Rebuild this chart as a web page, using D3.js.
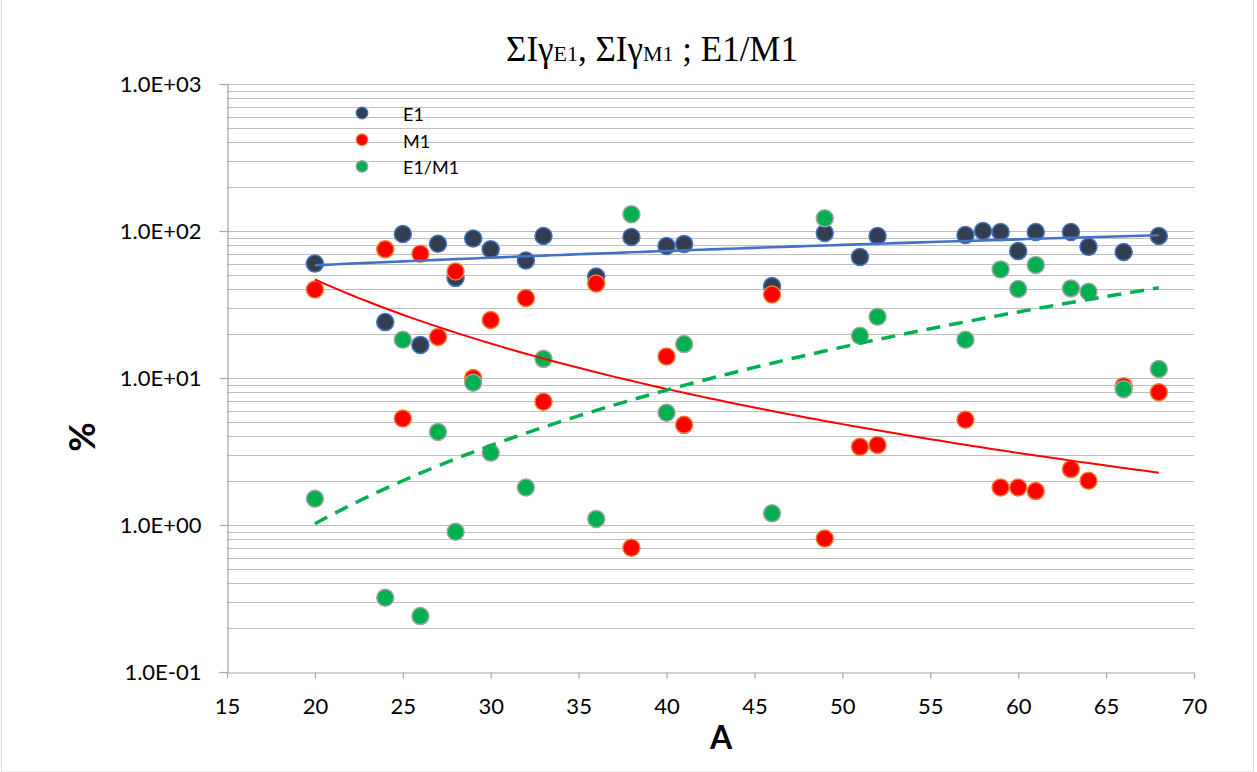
<!DOCTYPE html>
<html>
<head>
<meta charset="utf-8">
<script src="https://cdn.jsdelivr.net/npm/d3@7"></script>
<style>
  html, body { margin: 0; padding: 0; background: #fff; }
  svg { display: block; }
</style>
</head>
<body>
<svg id="chart" width="1257" height="772"></svg>
<script>
// Mass number A for each series
const aE1 = [20,24,25,26,27,28,29,30,32,33,36,38,40,41,46,49,51,52,57,58,59,60,61,63,64,66,68];
const e1Values = [60,24,95.5,16.8,82,48,89,75,63,92.5,49,91,79,81.7,42.3,97,66.5,92.5,94,100,98.5,73,98.5,98.5,78,72,92.5];

const aM1 = [20,24,25,26,27,28,29,30,32,33,36,38,40,41,46,49,51,52,57,59,60,61,63,64,66,68];
const m1Values = [40,75,5.3,70,19,53,10,24.8,35,6.9,44,0.70,14,4.8,37,0.81,3.4,3.5,5.2,1.8,1.8,1.7,2.4,2.0,8.8,8.0];

const aRatio = aM1;
const ratioValues = [1.51,0.32,18.2,0.24,4.3,0.90,9.3,3.1,1.8,13.5,1.1,130,5.8,17,1.2,122,19.4,26.1,18.2,54.8,40.3,58.8,40.7,38.6,8.4,11.5];

const xTicks = [15,20,25,30,35,40,45,50,55,60,65,70];
const yTicks = [0.1, 1, 10, 100, 1000];
const yTickLabels = ["1.0E-01","1.0E+00","1.0E+01","1.0E+02","1.0E+03"];
const seriesNames = ["E1", "M1", "E1/M1"];

const svg = d3.select("#chart");
const W = 1257, H = 772;

// outer chart border
svg.append("rect").attr("x", 1.5).attr("y", -2).attr("width", W - 5).attr("height", H + 2)
  .attr("fill", "#fff").attr("stroke", "#d9d9d9").attr("stroke-width", 1);

const plot = { left: 227, right: 1194, top: 84, bottom: 672 };
const x = d3.scaleLinear().domain([15, 70]).range([plot.left, plot.right]);
const y = d3.scaleLog().domain([0.1, 1000]).range([plot.bottom, plot.top]);

// horizontal gridlines: every 1..9 step of each decade
const gridVals = [];
for (let e = -1; e < 3; e++) {
  for (let m = 1; m <= 9; m++) gridVals.push(m * Math.pow(10, e));
}
gridVals.push(1000);
svg.append("g").selectAll("line").data(gridVals.filter(v => v > 0.1)).join("line")
  .attr("x1", plot.left).attr("x2", plot.right)
  .attr("y1", d => Math.round(y(d)) + 0.5).attr("y2", d => Math.round(y(d)) + 0.5)
  .attr("stroke", "#bfbfbf").attr("stroke-width", 1.2);

// axes
const fontAxis = "Lato, 'Liberation Sans', sans-serif";
const yAxis = d3.axisLeft(y).tickValues(yTicks).tickFormat((d, i) => yTickLabels[i]).tickSize(8).tickPadding(18);
const gy = svg.append("g").attr("transform", `translate(${plot.left + 0.5},0)`).call(yAxis);
gy.select(".domain").attr("stroke", "#a6a6a6").attr("stroke-width", 1.2);
gy.selectAll(".tick line").attr("stroke", "#a6a6a6").attr("stroke-width", 1.2);
gy.selectAll("text").attr("font-family", fontAxis).attr("font-size", 22).attr("fill", "#000");

const xAxis = d3.axisBottom(x).tickValues(xTicks).tickSize(6).tickPadding(20).tickSizeOuter(0);
const gx = svg.append("g").attr("transform", `translate(0,${plot.bottom + 0.5})`).call(xAxis);
gx.select(".domain").attr("stroke", "#a6a6a6").attr("stroke-width", 1.2);
gx.selectAll(".tick line").attr("stroke", "#a6a6a6").attr("stroke-width", 1.2);
gx.selectAll("text").attr("font-family", fontAxis).attr("font-size", 22).attr("fill", "#000");

// axis titles
svg.append("text").attr("x", 721).attr("y", 749)
  .attr("text-anchor", "middle").attr("font-family", fontAxis).attr("font-weight", "bold")
  .attr("font-size", 32).text("A");
svg.append("text").attr("transform", `translate(95,437) rotate(-90)`)
  .attr("text-anchor", "middle").attr("font-family", fontAxis).attr("font-weight", "bold")
  .attr("font-size", 36).text("%");

// title
const title = svg.append("text").attr("x", 652).attr("y", 61)
  .attr("text-anchor", "middle").attr("font-family", "'Liberation Serif', 'Times New Roman', serif")
  .attr("font-size", 35);
title.append("tspan").text("ΣIγ");
title.append("tspan").attr("font-size", 22).text("E1");
title.append("tspan").text(", ΣIγ");
title.append("tspan").attr("font-size", 22).text("M1");
title.append("tspan").text(" ; E1/M1");

// least-squares trendlines
function linreg(xs, ys) {
  const n = xs.length, mx = d3.mean(xs), my = d3.mean(ys);
  let sxy = 0, sxx = 0;
  for (let i = 0; i < n; i++) { sxy += (xs[i] - mx) * (ys[i] - my); sxx += (xs[i] - mx) ** 2; }
  const b = sxy / sxx;
  return { a: my - b * mx, b };
}
function linFit(xs, ys) {
  const r = linreg(xs, ys);
  return t => r.a + r.b * t;
}
function powFit(xs, ys) {
  const r = linreg(xs.map(Math.log), ys.map(Math.log));
  return t => Math.exp(r.a + r.b * Math.log(t));
}

const series = [
  { xs: aE1, ys: e1Values, fill: "#333f50", stroke: "#4472c4", fit: linFit },
  { xs: aM1, ys: m1Values, fill: "#ff0000", stroke: "#ed7d31", fit: powFit },
  { xs: aRatio, ys: ratioValues, fill: "#00b050", stroke: "#a5a5a5", fit: powFit }
];

// markers
series.forEach(s => {
  svg.append("g").selectAll("circle").data(s.xs.map((a, i) => [a, s.ys[i]])).join("circle")
    .attr("cx", d => x(d[0])).attr("cy", d => y(d[1])).attr("r", 8.5)
    .attr("fill", s.fill).attr("stroke", s.stroke).attr("stroke-width", 1.5);
});

// trendlines drawn over the markers
const trendStyles = [
  { color: "#4472c4", width: 2.6, dash: null },
  { color: "#ff0000", width: 2, dash: null },
  { color: "#00b050", width: 3.5, dash: "14,9" }
];
series.forEach((s, i) => {
  const f = s.fit(s.xs, s.ys);
  const xs = d3.range(d3.min(s.xs), d3.max(s.xs) + 0.001, 0.5);
  const line = d3.line().x(d => x(d)).y(d => y(f(d)));
  svg.append("path").datum(xs).attr("d", line).attr("fill", "none")
    .attr("stroke", trendStyles[i].color).attr("stroke-width", trendStyles[i].width)
    .attr("stroke-dasharray", trendStyles[i].dash);
});

// legend
const legend = svg.append("g");
seriesNames.forEach((name, i) => {
  const yy = 113 + i * 26.7;
  legend.append("circle").attr("cx", 362).attr("cy", yy).attr("r", 5.8)
    .attr("fill", series[i].fill).attr("stroke", series[i].stroke).attr("stroke-width", 1.2);
  legend.append("text").attr("x", 403).attr("y", yy + 8).attr("font-family", fontAxis)
    .attr("font-size", 18).text(name);
});
</script>
</body>
</html>
